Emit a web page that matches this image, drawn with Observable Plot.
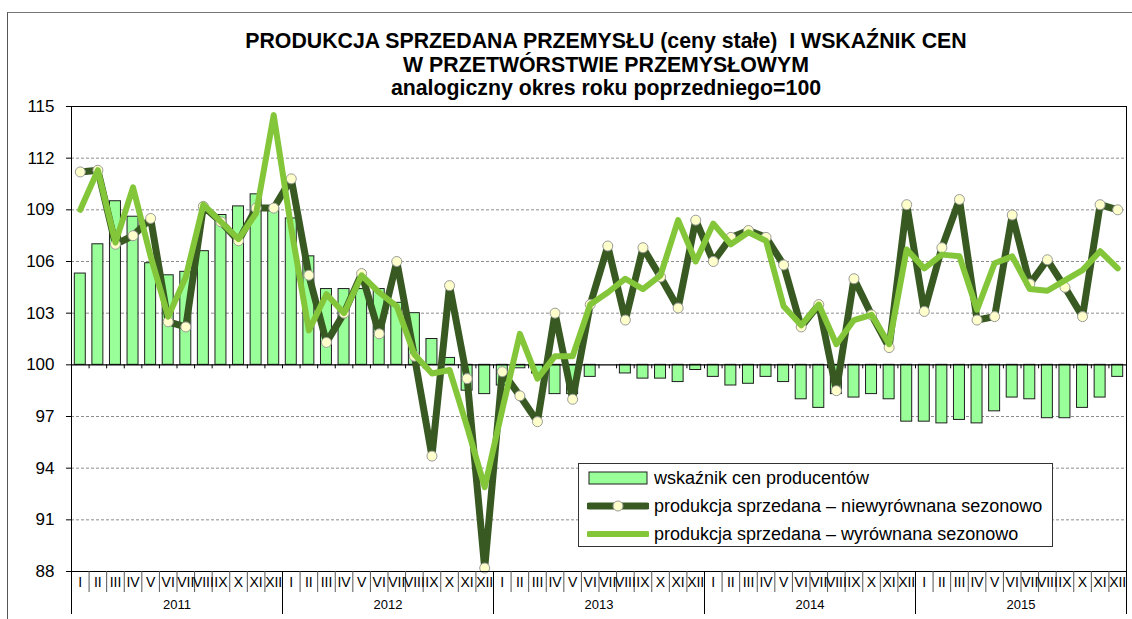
<!DOCTYPE html>
<html>
<head>
<meta charset="utf-8">
<script src="https://cdn.jsdelivr.net/npm/d3@7"></script>
<script src="https://cdn.jsdelivr.net/npm/@observablehq/plot@0.6"></script>
<style>
  html, body { margin: 0; padding: 0; background: #fff; overflow: hidden; }
  body { font-family: "Liberation Sans", Arial, sans-serif; }
  #wrap { position: relative; width: 1132px; height: 619px; }
  #outer { position: absolute; left: 7px; top: 12px; width: 1200px; height: 700px;
           border-left: 1.5px solid #555; border-top: 1.5px solid #777; }
  #chart { position: absolute; left: 0; top: 0; }
  #title { position: absolute; left: 0; top: 30px; width: 1212px; text-align: center;
           font-weight: bold; font-size: 21.3px; line-height: 23.6px; color: #000; }
  #legend { position: absolute; left: 578px; top: 463px; width: 475px; height: 84px;
            border: 1px solid #333; background: #fff; box-sizing: border-box; }
  .row { position: absolute; left: 0; height: 28px; display: flex; align-items: center;
         font-size: 18px; color: #000; white-space: nowrap; }
  .row svg { margin-left: 8px; margin-right: 5px; }
</style>
</head>
<body>
<div id="wrap">
  <div id="outer"></div>
  <div id="chart"></div>
  <div id="title"></div>
  <div id="legend"></div>
</div>
<script>
// ---- data ----
const months = ["I","II","III","IV","V","VI","VII","VIII","IX","X","XI","XII"];
const years = ["2011","2012","2013","2014","2015"];
const yTicks = [88, 91, 94, 97, 100, 103, 106, 109, 112, 115];

// wskaźnik cen producentów (bars)
const ppi = [
  105.3, 107.0, 109.5, 108.6, 105.9, 105.2, 105.4, 106.6, 108.7, 109.2, 109.9, 109.1,
  108.5, 106.3, 104.4, 104.4, 104.4, 104.4, 103.6, 103.0, 101.5, 100.4, 98.5, 98.3,
  98.8, 99.8, 99.5, 98.3, 98.3, 99.3, 100.0, 99.5, 99.2, 99.2, 99.0, 99.7,
  99.3, 98.8, 98.9, 99.3, 99.0, 98.0, 97.5, 98.3, 98.1, 98.3, 98.0, 96.7,
  96.7, 96.6, 96.8, 96.6, 97.3, 98.1, 98.0, 96.9, 96.9, 97.5, 98.1, 99.3
];
// produkcja sprzedana – niewyrównana sezonowo
const prodNsa = [
  111.2, 111.3, 107.0, 107.5, 108.5, 102.5, 102.2, 109.2, 108.3, 107.2, 109.1, 109.1,
  110.8, 105.2, 101.3, 103.0, 105.3, 101.8, 106.0, 100.5, 94.7, 104.6, 99.2, 88.2,
  99.6, 98.2, 96.7, 103.0, 98.0, 103.5, 106.9, 102.6, 106.8, 105.1, 103.3, 108.4,
  106.0, 107.4, 107.8, 107.4, 105.8, 102.2, 103.5, 98.5, 105.0, 102.9, 101.0, 109.3,
  103.1, 106.8, 109.6, 102.6, 102.8, 108.7, 104.7, 106.1, 104.5, 102.8, 109.3, 109.0
];
// produkcja sprzedana – wyrównana sezonowo
const prodSa = [
  109.0, 111.3, 107.1, 110.3, 106.3, 102.8, 105.1, 109.3, 108.3, 107.3, 108.8, 114.5,
  107.9, 102.0, 104.1, 103.0, 105.2, 104.2, 103.4, 100.6, 99.5, 99.7, 96.4, 92.9,
  97.4, 101.8, 99.2, 100.5, 100.5, 103.5, 104.2, 105.0, 104.4, 105.2, 108.4, 106.0,
  108.2, 107.0, 107.7, 107.2, 103.4, 102.3, 103.5, 101.2, 102.6, 102.9, 101.2, 106.7,
  105.6, 106.4, 106.3, 103.2, 105.9, 106.3, 104.4, 104.3, 104.9, 105.5, 106.6, 105.6
];

const titleLines = [
  "PRODUKCJA SPRZEDANA PRZEMYSŁU (ceny stałe)\u00a0\u00a0I WSKAŹNIK CEN",
  "W PRZETWÓRSTWIE PRZEMYSŁOWYM",
  "analogiczny okres roku poprzedniego=100"
];
const legendLabels = [
  "wskaźnik cen producentów",
  "produkcja sprzedana – niewyrównana sezonowo",
  "produkcja sprzedana – wyrównana sezonowo"
];

// ---- colours ----
const barFill = "#99FF99", barStroke = "#1f1f1f";
const darkGreen = "#385A22", lightGreen = "#84C63A";
const markerFill = "#FFFFCC", markerStroke = "#9a9a9a";

// ---- table ----
const n = ppi.length;
const rows = ppi.map((v, i) => ({i, ppi: v, nsa: prodNsa[i], sa: prodSa[i]}));
const monthBounds = d3.range(n + 1);
const yearBounds = years.map((y, k) => k * 12).concat([n]);
const monthCenters = d3.range(n).map(i => i + 0.5);
const yearCenters = years.map((y, k) => k * 12 + 6);
const gridTicks = yTicks.filter(t => t !== 88 && t !== 100 && t !== 115);

const chart = Plot.plot({
  width: 1132, height: 619,
  marginTop: 106, marginBottom: 48, marginLeft: 71, marginRight: 6,
  style: {fontFamily: "'Liberation Sans', Arial, sans-serif", background: "transparent", color: "#000"},
  x: {domain: [0, n], axis: null},
  y: {domain: [88, 115], axis: null},
  marks: [
    Plot.ruleY(gridTicks, {stroke: "#8c8c8c", strokeDasharray: "3,2", strokeWidth: 1}),
    Plot.rectY(rows, {x1: "i", x2: d => d.i + 1, y1: 100, y2: "ppi", insetLeft: 3.3, insetRight: 3.3,
                      fill: barFill, stroke: barStroke, strokeWidth: 1}),
    Plot.ruleY([100], {stroke: "#000", strokeWidth: 1.2}),
    Plot.ruleX(monthBounds.slice(1, -1), {x: d => d, y1: 100, y2: 100, insetBottom: -4, stroke: "#000"}),
    Plot.line(rows, {x: d => d.i + 0.5, y: "nsa", stroke: darkGreen, strokeWidth: 7, strokeLinejoin: "round"}),
    Plot.dot(rows, {x: d => d.i + 0.5, y: "nsa", r: 5, fill: markerFill, stroke: markerStroke, strokeWidth: 1}),
    Plot.line(rows, {x: d => d.i + 0.5, y: "sa", stroke: lightGreen, strokeWidth: 6, strokeLinejoin: "round"}),
    Plot.frame({stroke: "#000", strokeWidth: 1}),
    Plot.axisY({ticks: yTicks, tickSize: 5, tickPadding: 12, fontSize: 17, tickFormat: d => d, label: null}),
    Plot.axisX({ticks: monthBounds, tickSize: 21, text: null, stroke: "#555", label: null}),
    Plot.axisX({ticks: yearBounds, tickSize: 43, text: null, stroke: "#000", label: null}),
    Plot.axisX({ticks: monthCenters, tickSize: 0, tickPadding: 6, fontSize: 14, label: null,
                tickFormat: v => months[Math.floor(v) % 12]}),
    Plot.axisX({ticks: yearCenters, tickSize: 0, tickPadding: 28, fontSize: 13, label: null,
                tickFormat: v => years[Math.round((v - 6) / 12)]})
  ]
});
document.getElementById("chart").appendChild(chart);

// ---- title ----
const title = document.getElementById("title");
titleLines.forEach(t => { const d = document.createElement("div"); d.textContent = t; title.appendChild(d); });

// ---- legend ----
const legend = document.getElementById("legend");
const swatches = [
  `<svg width="62" height="16"><rect x="2" y="2" width="58" height="12" fill="${barFill}" stroke="${barStroke}" stroke-width="1"/></svg>`,
  `<svg width="62" height="16"><line x1="2" y1="8" x2="60" y2="8" stroke="${darkGreen}" stroke-width="7" stroke-linecap="round"/><circle cx="31" cy="8" r="5" fill="${markerFill}" stroke="${markerStroke}"/></svg>`,
  `<svg width="62" height="16"><line x1="2" y1="8" x2="60" y2="8" stroke="${lightGreen}" stroke-width="6" stroke-linecap="round"/></svg>`
];
legendLabels.forEach((lab, k) => {
  const r = document.createElement("div");
  r.className = "row";
  r.style.top = (k * 28) + "px";
  r.innerHTML = swatches[k];
  const s = document.createElement("span");
  s.textContent = lab;
  r.appendChild(s);
  legend.appendChild(r);
});
</script>
</body>
</html>
